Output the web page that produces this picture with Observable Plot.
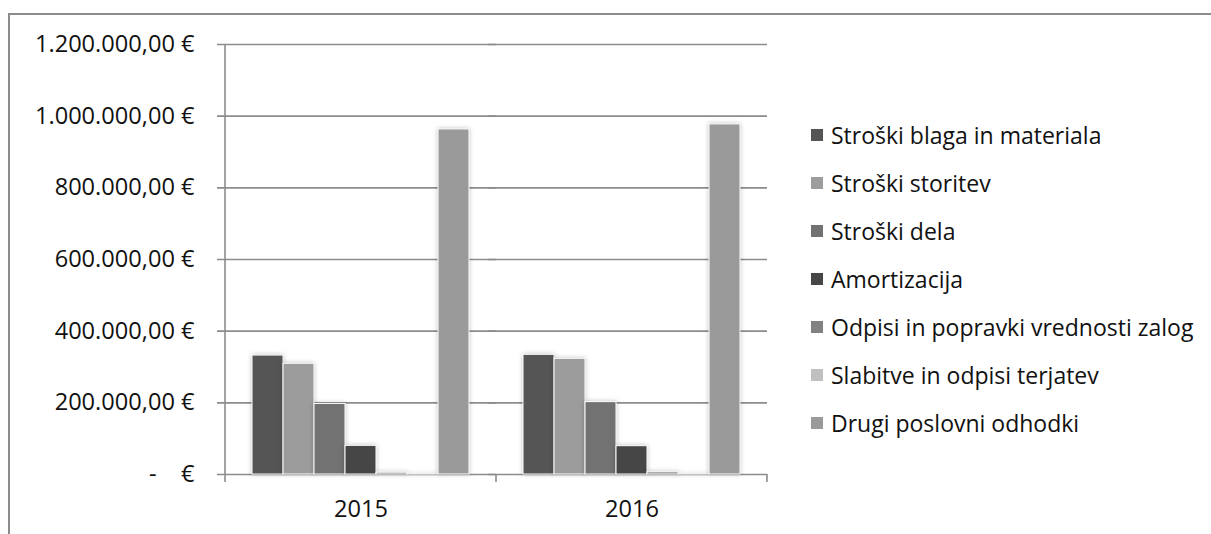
<!DOCTYPE html>
<html>
<head>
<meta charset="utf-8">
<script src="https://cdn.jsdelivr.net/npm/d3@7"></script>
<script src="https://cdn.jsdelivr.net/npm/@observablehq/plot@0.6"></script>
<style>
html, body { margin: 0; padding: 0; background: #fff; overflow: hidden; }
#wrap { position: relative; width: 1211px; height: 534px; overflow: hidden; }
#border { position: absolute; left: 8px; top: 13px; width: 1400px; height: 700px; border: 2px solid #8c8c8c; box-sizing: border-box; }
#chart { position: absolute; left: 0; top: 0; }
#legend { position: absolute; left: 811px; top: 111px; font-family: "Open Sans", sans-serif; font-size: 23px; color: #111; }
#legend .item { height: 48px; display: flex; align-items: center; white-space: nowrap; }
#legend .sw { width: 12px; height: 12px; margin-right: 8px; flex: none; }
#chart g[aria-label="bar"] rect { filter: drop-shadow(0px 0px 2px rgba(0,0,0,0.25)); }
</style>
</head>
<body>
<div id="wrap">
  <div id="border"></div>
  <div id="chart"></div>
  <div id="legend"></div>
</div>
<script>
const years = ["2015", "2016"];
const series = [
  "Stroški blaga in materiala",
  "Stroški storitev",
  "Stroški dela",
  "Amortizacija",
  "Odpisi in popravki vrednosti zalog",
  "Slabitve in odpisi terjatev",
  "Drugi poslovni odhodki"
];
const values2015 = [332000, 309000, 197000, 80000, 5000, 500, 963000];
const values2016 = [334000, 323000, 202000, 79000, 6000, 500, 977000];
const colors = ["#555555", "#9c9c9c", "#727272", "#464646", "#828282", "#c0c0c0", "#9a9a9a"];
const yTicks = [0, 200000, 400000, 600000, 800000, 1000000, 1200000];

const valuesByYear = {"2015": values2015, "2016": values2016};
const data = years.flatMap(yr => series.map((s, i) => ({year: yr, series: s, value: valuesByYear[yr][i]})));

const eur = d3.formatLocale({decimal: ",", thousands: ".", grouping: [3], currency: ["", "\u00a0€"]}).format("$,.2f");
const tickFmt = d => d === 0 ? "-\u00a0\u00a0\u00a0\u00a0€" : eur(d);

const plot = Plot.plot({
  width: 1211,
  height: 534,
  marginLeft: 224,
  marginRight: 444,
  marginTop: 44,
  marginBottom: 60,
  style: {fontFamily: "'Open Sans', sans-serif", fontSize: "23.6px", color: "#111", background: "transparent", overflow: "visible"},
  fx: {domain: years, padding: 0, label: null, tickSize: 0, tickPadding: 26, axis: "bottom"},
  x: {domain: series, paddingInner: 0, paddingOuter: 0.773, axis: null},
  y: {domain: [0, 1200000], ticks: yTicks, tickFormat: tickFmt, tickSize: 0, tickPadding: 31, label: null},
  color: {domain: series, range: colors},
  marks: [
    Plot.ruleY(yTicks, {stroke: "#8c8c8c", strokeWidth: 1.6, insetLeft: -8}),
    Plot.barY(data, {fx: "year", x: "series", y: "value", fill: "series", stroke: "white", strokeWidth: 1})
  ]
});

// axis line and category separator ticks, placed via the plot's own scales
const fxs = plot.scale("fx");
const ys = plot.scale("y");
const svg = d3.select(plot.tagName.toLowerCase() === "svg" ? plot : plot.querySelector("svg"));
const g = svg.append("g").attr("stroke", "#8c8c8c").attr("stroke-width", 1.6);
const y0 = ys.apply(0), yTop = ys.apply(yTicks[yTicks.length - 1]);
const xLeft = fxs.apply(years[0]);
g.append("line").attr("x1", xLeft).attr("x2", xLeft).attr("y1", yTop).attr("y2", y0 + 8);
years.forEach(yr => {
  const xr = fxs.apply(yr) + fxs.bandwidth;
  g.append("line").attr("x1", xr).attr("x2", xr).attr("y1", y0).attr("y2", y0 + 8);
});

document.getElementById("chart").appendChild(plot);

const legend = d3.select("#legend");
series.forEach((s, i) => {
  const item = legend.append("div").attr("class", "item");
  item.append("div").attr("class", "sw").style("background", colors[i]);
  item.append("span").text(s);
});
</script>
</body>
</html>
